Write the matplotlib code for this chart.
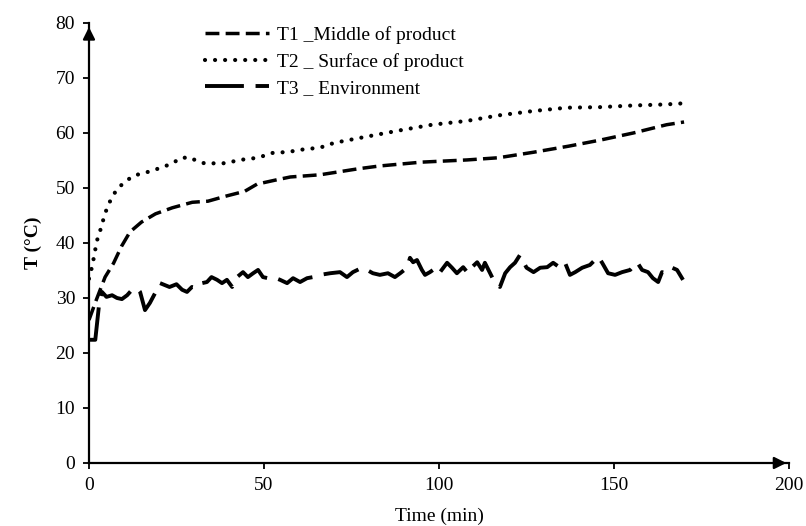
import numpy as np
import matplotlib
matplotlib.use("Agg")
import matplotlib.pyplot as plt

plt.rcParams['font.family'] = ['Liberation Serif', 'DejaVu Serif']
plt.rcParams['font.size'] = 14

# T1 - middle of product
t1_time = [0, 2, 4.6, 7, 9.3, 11.7, 15, 19, 23.8, 29.5, 34, 39, 44.5, 48, 53, 57.5,
           66, 77, 83, 95, 108, 117, 127, 137, 146, 155.5, 165, 170]
t1_vals = [26, 29.5, 33.8, 36.3, 39.4, 42, 43.8, 45.3, 46.4, 47.4, 47.6, 48.5, 49.4, 50.7, 51.4, 52,
           52.4, 53.5, 54, 54.7, 55.1, 55.5, 56.5, 57.6, 58.7, 60, 61.5, 62]

# T2 - surface of product
t2_time = [0, 1, 1.7, 2.6, 3.7, 4.3, 5.4, 6.6, 8.3, 10.3, 12.6, 15.4, 18, 20.9, 23.7, 26, 28.6,
           30.9, 33.4, 36, 38.9, 41.7, 44.3, 47, 49.7, 52.6, 55.7, 58.3, 61.1, 64, 66.9, 70,
           79, 89, 98, 108, 117, 127, 136.5, 146, 155.5, 165, 170]
t2_vals = [33.5, 36, 38.5, 41.3, 43.1, 44.9, 46.7, 48.4, 50, 51.1, 52.2, 52.7, 53.1, 53.8, 54.4, 55.4, 55.6,
           54.9, 54.4, 54.5, 54.5, 54.9, 55.2, 55.4, 55.8, 56.4, 56.5, 56.7, 57.0, 57.2, 57.5, 58.2,
           59.3, 60.5, 61.5, 62.2, 63.2, 64.0, 64.6, 64.7, 65.0, 65.2, 65.4]

# T3 - environment
t3_time = [0, 1.8, 3.0, 3.7, 5, 6.6, 8, 9.4, 10.9, 12.3, 13.7, 14.6, 16, 17.4, 18.9, 20.3, 23, 25,
           26.6, 28, 29.4, 30.9, 32.3, 33.7, 35, 36.6, 38, 39.4, 40.9, 42.3, 44, 45.4, 46.9, 48.3,
           49.7, 51.1, 52.6, 54.6, 56.6, 58.3, 60.3, 62.3, 64, 66, 68.9, 71.7, 73.7, 75.4, 78, 79.4,
           81.1, 83.1, 85.4, 87.4, 88.9, 90.9, 91.7, 92.6, 93.7, 95.1, 96, 97.4, 99.4, 100.3, 102.3,
           103.7, 105.1, 106.9, 108.3, 109.4, 110.9, 112.3, 113.1, 114.6, 116, 117.4, 118.9, 120.3,
           121.7, 123.1, 125, 127, 128.9, 130.9, 132.6, 134.6, 136, 137.4, 138.9, 140.9, 143.1,
           145.5, 146.6, 148.3, 150.3, 152.3, 154.6, 156.6, 158, 159.7, 161.1, 162.6, 163.7, 165,
           166.6, 168, 169.7]
t3_vals = [22.4, 22.4, 29.5, 31.1, 30.2, 30.5, 30.0, 29.8, 30.5, 31.5, 31.8, 31.1, 27.8, 29.1, 30.9,
           32.7, 32.0, 32.5, 31.5, 31.1, 32.0, 31.8, 32.7, 32.9, 33.8, 33.3, 32.7, 33.3, 32.0, 33.8,
           34.7, 33.8, 34.5, 35.1, 33.8, 33.6, 33.8, 33.3, 32.7, 33.6, 32.9, 33.6, 33.8, 34.2, 34.5,
           34.7, 33.8, 34.7, 35.5, 35.1, 34.5, 34.2, 34.5, 33.8, 34.5, 35.5, 37.3, 36.5, 36.9, 35.1,
           34.2, 34.7, 35.6, 34.7, 36.4, 35.5, 34.5, 35.6, 34.5, 35.6, 36.5, 35.1, 36.4, 34.5, 32.7,
           32.0, 34.5, 35.6, 36.4, 37.8, 35.5, 34.7, 35.5, 35.6, 36.4, 35.5, 36.4, 34.2, 34.7, 35.5,
           36.0, 37.5, 36.4, 34.5, 34.2, 34.7, 35.1, 36.5, 35.1, 34.7, 33.6, 32.9, 34.7, 34.5, 35.5,
           35.1, 33.3]

labels = ["T1 _Middle of product", "T2 _ Surface of product", "T3 _ Environment"]

fig = plt.figure(figsize=(8.06, 5.26), dpi=100)
ax = fig.add_axes([0.1104, 0.1198, 0.8686, 0.8365])

ax.plot(t1_time, t1_vals, color='black', lw=2.5, linestyle=(0, (4, 1.8)), label=labels[0])
ax.plot(t2_time, t2_vals, color='black', lw=3, linestyle=(0, (0.01, 2.4)),
        dash_capstyle='round', label=labels[1])
ax.plot(t3_time, t3_vals, color='black', lw=2.8, linestyle=(0, (10, 3)), label=labels[2])

ax.set_xlim(0, 200)
ax.set_ylim(0, 80)
ax.set_xticks([0, 50, 100, 150, 200])
ax.set_yticks(np.arange(0, 81, 10))

for s in ['top', 'right']:
    ax.spines[s].set_visible(False)
for s in ['left', 'bottom']:
    ax.spines[s].set_linewidth(1.6)
ax.tick_params(direction='out', length=4, width=1.3, pad=6)

# arrow heads at axis ends
ax.annotate('', xy=(1, 0), xytext=(0.98, 0), xycoords='axes fraction',
            arrowprops=dict(arrowstyle='-|>', color='black', lw=1.6, mutation_scale=18))
ax.annotate('', xy=(0, 0.997), xytext=(0, 0.97), xycoords='axes fraction',
            arrowprops=dict(arrowstyle='-|>', color='black', lw=1.6, mutation_scale=18))

ax.set_xlabel("Time (min)", labelpad=10)
ax.set_ylabel("T (°C)", fontweight='bold', labelpad=10)

ax.legend(loc='upper left', bbox_to_anchor=(0.166, 0.993), frameon=False, handlelength=3.3,
          handletextpad=0.4, labelspacing=0.45, borderpad=0, borderaxespad=0)

fig.savefig("out.png", dpi=100)
